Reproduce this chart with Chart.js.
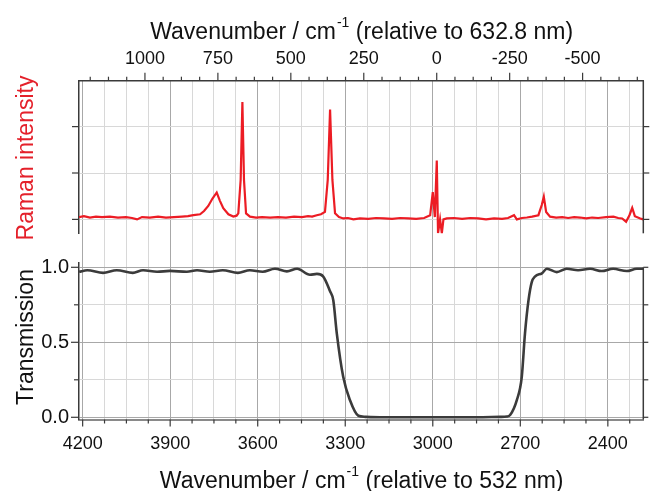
<!DOCTYPE html>
<html>
<head>
<meta charset="utf-8">
<script src="https://cdn.jsdelivr.net/npm/chart.js@4.4.1/dist/chart.umd.min.js"></script>
<style>
  html, body { margin: 0; padding: 0; background: #fff; }
  #wrap { position: relative; width: 650px; height: 491px; }
</style>
</head>
<body>
<div id="wrap"><canvas id="spectra" width="650" height="491"></canvas></div>
<script>
// Raman spectrum, shift in cm-1 relative to 632.8 nm (top axis)
const ramanShift = [1226, 1209, 1188.5, 1168, 1147, 1120, 1092.5, 1065, 1044.5, 1027,
  1010, 983, 955, 928, 900.5, 873, 852.5, 834, 811, 797.5,
  783, 768.5, 754, 743, 731.5, 714, 697, 686, 680, 672,
  666, 660.5, 653.5, 640, 619, 599, 571, 544, 516.5, 489,
  461.5, 441, 427, 411, 396.5, 383, 373.5, 365.5, 357.5, 348.5,
  335, 320, 304, 285.5, 263, 235, 208, 180.5, 153, 125.5,
  98, 70.5, 43, 22.5, 13.5, 6.5, -0.2, -4.5, -11.5, -17.5,
  -23, -34.5, -59.5, -87, -114.5, -142, -169, -196.5, -224, -244.5,
  -265, -274.5, -292.5, -309, -327, -348.5, -360, -367, -375, -388.5,
  -409.5, -430, -450.5, -471, -491.5, -512, -532.5, -553.5, -580.5, -605.5,
  -622, -635.5, -649, -660.5, -670, -679, -697.5, -708];
const ramanIntensity = [0.05, 0.07, 0.04, 0.06, 0.05, 0.06, 0.04, 0.05, 0.03, 0.0,
  0.05, 0.04, 0.06, 0.04, 0.05, 0.06, 0.07, 0.09, 0.11, 0.18,
  0.29, 0.45, 0.58, 0.4, 0.24, 0.11, 0.06, 0.08, 0.13, 0.85,
  2.53, 0.85, 0.13, 0.06, 0.04, 0.05, 0.04, 0.05, 0.04, 0.06,
  0.05, 0.07, 0.06, 0.09, 0.11, 0.16, 0.85, 2.37, 0.85, 0.13,
  0.05, 0.02, 0.03, 0.0, 0.02, 0.01, 0.03, 0.02, 0.01, 0.03,
  0.02, 0.01, 0.03, 0.09, 0.59, 0.05, 1.27, -0.3, 0.0, -0.3,
  0.0, 0.02, 0.03, 0.01, 0.03, 0.02, 0.0, 0.02, 0.01, 0.03,
  0.09, 0.0, 0.03, 0.04, 0.06, 0.09, 0.31, 0.49, 0.16, 0.06,
  0.04, 0.05, 0.03, 0.05, 0.04, 0.02, 0.04, 0.03, 0.05, 0.06,
  0.03, 0.02, -0.05, 0.09, 0.25, 0.07, 0.02, 0.0];

// notch filter transmission, wavenumber in cm-1 relative to 532 nm (bottom axis)
const filterWavenumber = [4212, 4184, 4130, 4083, 4028, 3993, 3945, 3901, 3843, 3808,
  3764, 3720, 3668, 3627, 3583, 3541, 3500, 3465, 3421, 3397,
  3376, 3352, 3341, 3329, 3307, 3284, 3255, 3232, 3181, 3000,
  2850, 2769, 2746, 2735, 2712, 2695, 2684, 2672, 2661, 2649,
  2626, 2609, 2575, 2541, 2502, 2461, 2421, 2382, 2335, 2301, 2279];
const filterTransmission = [0.97, 0.98, 0.963, 0.98, 0.963, 0.98, 0.97, 0.976, 0.97, 0.98,
  0.97, 0.98, 0.963, 0.98, 0.97, 0.99, 0.973, 0.99, 0.95, 0.956,
  0.94, 0.84, 0.78, 0.56, 0.27, 0.115, 0.01, 0.003, 0.0, 0.0,
  0.0, 0.003, 0.005, 0.015, 0.115, 0.27, 0.56, 0.78, 0.9, 0.94,
  0.96, 0.99, 0.968, 0.99, 0.98, 0.99, 0.975, 0.99, 0.975, 0.99, 0.99];

// tick labels
const bottomTickLabels = [4200, 3900, 3600, 3300, 3000, 2700, 2400];
const topTickLabels = [1000, 750, 500, 250, 0, -250, -500];
const transmissionTickLabels = [0, 0.5, 1];

// axis ranges (the two x axes are offset by the laser line difference)
const bottomRange = [2278.5, 4212.5];
const topRange = [-708, 1226];

const FONT = "'Liberation Sans', Arial, Helvetica, sans-serif";
const RED = '#ec1c24';
const AXIS = '#3a3a3a';
const GRID_MAJOR = '#a8a8a8';
const GRID_MINOR = '#d8d8d8';

function stepTicks(from, to, step) {
  const out = [];
  for (let v = from; v <= to + 1e-9; v += step) out.push({ value: +v.toFixed(4) });
  return out;
}

function drawTitle(ctx, cx, baseline, before, sup, after) {
  ctx.textAlign = 'left';
  ctx.textBaseline = 'alphabetic';
  ctx.fillStyle = '#111';
  ctx.font = '23px ' + FONT;
  const w1 = ctx.measureText(before).width;
  const w3 = ctx.measureText(after).width;
  ctx.font = '14px ' + FONT;
  const w2 = ctx.measureText(sup).width;
  const x0 = cx - (w1 + w2 + w3) / 2;
  ctx.font = '23px ' + FONT;
  ctx.fillText(before, x0, baseline);
  ctx.font = '14px ' + FONT;
  ctx.fillText(sup, x0 + w1 + 1, baseline - 12);
  ctx.font = '23px ' + FONT;
  ctx.fillText(after, x0 + w1 + w2 + 1, baseline);
}

function drawSideTitle(ctx, text, x, y, color) {
  ctx.save();
  ctx.translate(x, y);
  ctx.rotate(-Math.PI / 2);
  ctx.textAlign = 'center';
  ctx.textBaseline = 'alphabetic';
  ctx.fillStyle = color;
  ctx.font = '23px ' + FONT;
  ctx.fillText(text, 0, 0);
  ctx.restore();
}

// tick marks, right-hand axes and titles
const frame = {
  id: 'frame',
  afterDraw(chart) {
    const { ctx, chartArea: a, scales } = chart;
    const { x, x2, yT, yB } = scales;
    const seg = (x0, y0, x1, y1) => { ctx.beginPath(); ctx.moveTo(x0, y0); ctx.lineTo(x1, y1); ctx.stroke(); };
    ctx.save();
    ctx.strokeStyle = AXIS;
    ctx.lineWidth = 1.2;
    x.ticks.forEach(t => {
      const p = x.getPixelForValue(t.value);
      seg(p, a.bottom, p, a.bottom + (t.value % 300 === 0 ? 7 : 4));
    });
    x2.ticks.forEach(t => {
      const p = x2.getPixelForValue(t.value);
      seg(p, a.top, p, a.top - (t.value % 250 === 0 ? 8 : 4));
    });
    yT.ticks.forEach(t => {
      const p = yT.getPixelForValue(t.value);
      seg(a.left - 7, p, a.left, p);
      seg(a.right, p, a.right + 6, p);
    });
    yB.ticks.forEach(t => {
      const p = yB.getPixelForValue(t.value);
      const major = transmissionTickLabels.includes(t.value);
      seg(a.left - (major ? 8 : 5), p, a.left, p);
      seg(a.right, p, a.right + 5, p);
    });
    ctx.lineWidth = 1.5;
    seg(a.right, yT.top, a.right, yT.bottom);
    seg(a.right, yB.getPixelForValue(1), a.right, yB.bottom);

    drawTitle(ctx, (a.left + a.right) / 2, 38.5, 'Wavenumber / cm', '-1', ' (relative to 632.8 nm)');
    drawTitle(ctx, (a.left + a.right) / 2, 488, 'Wavenumber / cm', '-1', ' (relative to 532 nm)');
    drawSideTitle(ctx, 'Raman intensity', 33, 158, '#e4202a');
    drawSideTitle(ctx, 'Transmission', 33, 337, '#111');
    ctx.restore();
  }
};

const tickFont = { family: FONT, size: 18 };

new Chart(document.getElementById('spectra'), {
  type: 'line',
  data: {
    datasets: [
      {
        label: 'Raman',
        data: ramanShift.map((v, i) => ({ x: v, y: ramanIntensity[i] })),
        xAxisID: 'x2',
        yAxisID: 'yT',
        borderColor: RED,
        borderWidth: 2.2,
        pointRadius: 0,
        tension: 0
      },
      {
        label: 'Transmission',
        data: filterWavenumber.map((v, i) => ({ x: v, y: filterTransmission[i] })),
        xAxisID: 'x',
        yAxisID: 'yB',
        borderColor: '#3b3b3b',
        borderWidth: 2.6,
        pointRadius: 0,
        cubicInterpolationMode: 'monotone'
      }
    ]
  },
  options: {
    responsive: false,
    devicePixelRatio: 1,
    animation: false,
    layout: { padding: { left: 0, right: 6.7, top: 0, bottom: 0 } },
    plugins: {
      legend: { display: false },
      tooltip: { enabled: false }
    },
    scales: {
      x: {
        type: 'linear',
        position: 'bottom',
        reverse: true,
        min: bottomRange[0],
        max: bottomRange[1],
        afterBuildTicks: s => { s.ticks = stepTicks(2325, 4200, 75); },
        afterFit: s => { s.height = 71.5; },
        grid: {
          drawTicks: false,
          color: c => (c.tick && c.tick.value % 300 === 0 ? GRID_MAJOR : GRID_MINOR)
        },
        border: { display: true, color: '#8a8a8a', width: 2 },
        ticks: {
          autoSkip: false,
          maxRotation: 0,
          padding: 14,
          color: '#111',
          font: tickFont,
          callback: v => (bottomTickLabels.includes(v) ? String(v) : '')
        }
      },
      x2: {
        type: 'linear',
        position: 'top',
        reverse: true,
        min: topRange[0],
        max: topRange[1],
        afterBuildTicks: s => { s.ticks = stepTicks(-687.5, 1187.5, 62.5); },
        afterFit: s => { s.height = 80.7; },
        grid: { display: false, drawTicks: false },
        border: { display: true, color: AXIS, width: 1.5 },
        ticks: {
          autoSkip: false,
          maxRotation: 0,
          padding: 11,
          color: '#111',
          font: tickFont,
          callback: v => (topTickLabels.includes(v) ? String(v) : '')
        }
      },
      yB: {
        type: 'linear',
        position: 'left',
        stack: 'panels',
        stackWeight: 156.5,
        min: -0.0147,
        max: 1.0287,
        afterBuildTicks: s => { s.ticks = stepTicks(0, 1, 0.125); },
        afterFit: s => { s.width = 79; },
        grid: {
          drawTicks: false,
          color: c => (c.tick && transmissionTickLabels.includes(c.tick.value) ? GRID_MAJOR : GRID_MINOR)
        },
        border: { display: true, color: AXIS, width: 1.5 },
        ticks: {
          padding: 10,
          color: '#111',
          font: { family: FONT, size: 20 },
          callback: v => (transmissionTickLabels.includes(v) ? v.toFixed(1) : '')
        }
      },
      yGap: {
        type: 'linear',
        position: 'left',
        stack: 'panels',
        stackWeight: 29.7,
        min: 0,
        max: 1,
        afterFit: s => { s.width = 79; },
        grid: { display: false, drawTicks: false },
        border: { display: false },
        ticks: { display: false }
      },
      yT: {
        type: 'linear',
        position: 'left',
        stack: 'panels',
        stackWeight: 152.6,
        min: -0.3,
        max: 2.99,
        afterBuildTicks: s => { s.ticks = [0, 1, 2].map(v => ({ value: v })); },
        afterFit: s => { s.width = 79; },
        grid: { drawTicks: false, color: GRID_MINOR },
        border: { display: true, color: AXIS, width: 1.5 },
        ticks: { display: false }
      }
    }
  },
  plugins: [frame]
});
</script>
</body>
</html>
